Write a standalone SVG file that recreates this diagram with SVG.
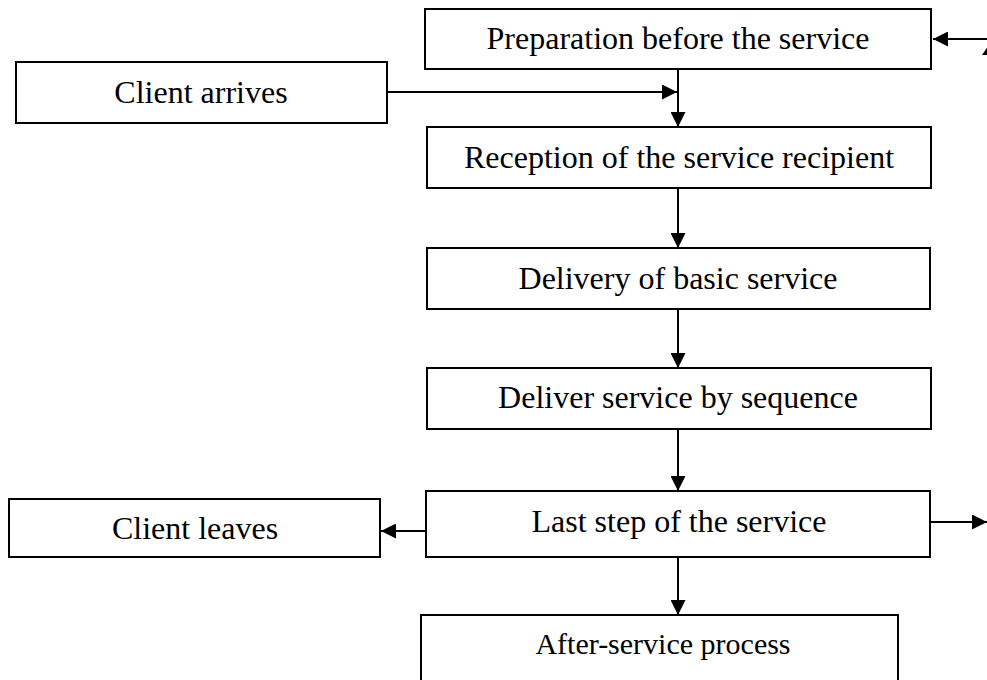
<svg xmlns="http://www.w3.org/2000/svg" width="987" height="680" viewBox="0 0 987 680">
  <style>
    .box { fill: #ffffff; stroke: #000000; stroke-width: 2; }
    .label { font-family: "Liberation Serif", "Times New Roman", serif; font-size: 32px; fill: #000000; text-anchor: middle; }
    .wire { fill: none; stroke: #000000; stroke-width: 2; }
    .head { fill: #000000; stroke: none; }
  </style>
  <defs>
    <marker id="arrow" viewBox="0 0 15 15" refX="15" refY="7.5" markerWidth="15" markerHeight="15" markerUnits="userSpaceOnUse" orient="auto">
      <path d="M0,0 L15,7.5 L0,15 Z" class="head"/>
    </marker>
  </defs>
  <rect width="987" height="680" fill="#ffffff"/>

  <g id="connectors">
    <line class="wire" x1="678" y1="69" x2="678" y2="127" marker-end="url(#arrow)"/>
    <line class="wire" x1="387" y1="92" x2="677" y2="92" marker-end="url(#arrow)"/>
    <line class="wire" x1="678" y1="188" x2="678" y2="248" marker-end="url(#arrow)"/>
    <line class="wire" x1="678" y1="309" x2="678" y2="368" marker-end="url(#arrow)"/>
    <line class="wire" x1="678" y1="429" x2="678" y2="491" marker-end="url(#arrow)"/>
    <line class="wire" x1="678" y1="557" x2="678" y2="615" marker-end="url(#arrow)"/>
    <line class="wire" x1="426" y1="531" x2="381" y2="531" marker-end="url(#arrow)"/>
    <line class="wire" x1="930" y1="522" x2="987" y2="522" marker-end="url(#arrow)"/>
    <line class="wire" x1="990" y1="39" x2="933" y2="39" marker-end="url(#arrow)"/>
    <!-- return path runs up along the right margin -->
    <path class="head" d="M991,42 L998,55 L982,55 Z"/>
  </g>

  <g id="prep">
    <rect class="box" x="425" y="9" width="506" height="60"/>
    <text class="label" x="678" y="49">Preparation before the service</text>
  </g>
  <g id="arrive">
    <rect class="box" x="16" y="62" width="371" height="61"/>
    <text class="label" x="201" y="103">Client arrives</text>
  </g>
  <g id="reception">
    <rect class="box" x="427" y="127" width="504" height="61"/>
    <text class="label" x="679" y="168">Reception of the service recipient</text>
  </g>
  <g id="basic">
    <rect class="box" x="427" y="248" width="503" height="61"/>
    <text class="label" x="678" y="289">Delivery of basic service</text>
  </g>
  <g id="sequence">
    <rect class="box" x="427" y="368" width="504" height="61"/>
    <text class="label" x="678" y="408">Deliver service by sequence</text>
  </g>
  <g id="last">
    <rect class="box" x="426" y="491" width="504" height="66"/>
    <text class="label" x="679" y="532">Last step of the service</text>
  </g>
  <g id="leaves">
    <rect class="box" x="9" y="499" width="371" height="58"/>
    <text class="label" x="195" y="539">Client leaves</text>
  </g>
  <g id="after">
    <rect class="box" x="421" y="615" width="477" height="70"/>
    <text class="label" x="663" y="654" style="font-size:30px">After-service process</text>
  </g>
</svg>
